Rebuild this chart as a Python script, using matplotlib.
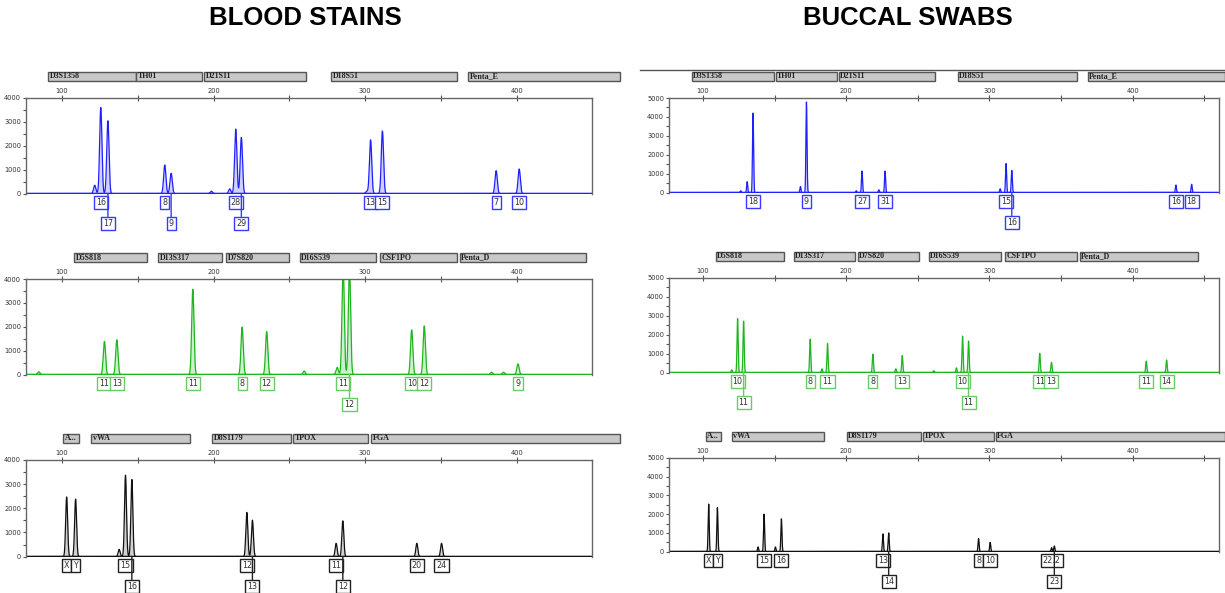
import numpy as np
import matplotlib.pyplot as plt
from matplotlib.patches import Rectangle
from matplotlib.lines import Line2D

W, H = 1225, 593

# ---- data: peaks (bp, rfu) and allele calls (label, bp, row) ----
blood_blue_bp = [121.6, 125.6, 130.3, 167.8, 172.0, 198.5, 210.6, 214.6, 218.3, 301.0, 303.5, 311.3, 386.3, 401.5]
blood_blue_rfu = [350, 3600, 3050, 1200, 850, 100, 200, 2700, 2350, 100, 2250, 2620, 960, 1030]
blood_blue_calls = [("16", 125.6, 0), ("17", 130.3, 1), ("8", 167.8, 0), ("9", 172.0, 1),
                    ("28", 214.6, 0), ("29", 218.3, 1), ("13", 303.5, 0), ("15", 311.3, 0),
                    ("7", 386.3, 0), ("10", 401.5, 0)]

blood_green_bp = [84.7, 128.0, 136.2, 186.3, 218.8, 235.0, 259.7, 281.5, 285.4, 289.6, 330.6, 338.9, 383.3, 391.2, 400.7]
blood_green_rfu = [120, 1390, 1460, 3570, 1990, 1800, 150, 300, 4600, 4500, 1875, 2040, 100, 100, 450]
blood_green_calls = [("11", 128.0, 0), ("13", 136.2, 0), ("11", 186.3, 0), ("8", 218.8, 0),
                     ("12", 235.0, 0), ("11", 285.4, 0), ("12", 289.6, 1), ("10", 330.6, 0),
                     ("12", 338.9, 0), ("9", 400.7, 0)]

blood_black_bp = [103.1, 109.0, 137.7, 141.9, 146.1, 221.9, 225.6, 280.8, 285.2, 334.0, 350.3]
blood_black_rfu = [2470, 2380, 300, 3370, 3190, 1830, 1510, 550, 1480, 550, 550]
blood_black_calls = [("X", 103.1, 0), ("Y", 109.0, 0), ("15", 141.9, 0), ("16", 146.1, 1),
                     ("12", 221.9, 0), ("13", 225.6, 1), ("11", 280.8, 0), ("12", 285.2, 1),
                     ("20", 334.0, 0), ("24", 350.3, 0)]

buccal_blue_bp = [126.3, 130.8, 134.9, 168.0, 172.2, 207.0, 211.0, 222.7, 227.1, 307.5, 311.6, 315.6, 430.2, 441.2]
buccal_blue_rfu = [100, 580, 4210, 320, 4790, 100, 1140, 150, 1140, 200, 1540, 1170, 400, 440]
buccal_blue_calls = [("18", 134.9, 0), ("9", 172.2, 0), ("27", 211.0, 0), ("31", 227.1, 0),
                     ("15", 311.6, 0), ("16", 315.6, 1), ("16", 430.2, 0), ("18", 441.2, 0)]

buccal_green_bp = [120.0, 124.1, 128.3, 174.8, 183.0, 186.9, 218.6, 234.6, 239.1, 261.1, 276.9, 281.2, 285.4,
                   335.1, 343.3, 409.5, 423.7]
buccal_green_rfu = [150, 2860, 2720, 1770, 200, 1540, 980, 200, 900, 100, 250, 1930, 1670, 1020, 540, 610, 670]
buccal_green_calls = [("10", 124.1, 0), ("11", 128.3, 1), ("8", 174.8, 0), ("11", 186.9, 0),
                      ("8", 218.6, 0), ("13", 239.1, 0), ("10", 281.2, 0), ("11", 285.4, 1),
                      ("11", 335.1, 0), ("13", 343.3, 0), ("11", 409.5, 0), ("14", 423.7, 0)]

buccal_black_bp = [103.9, 110.0, 138.4, 142.6, 150.5, 154.7, 225.6, 229.6, 292.4, 300.5, 343.4, 345.3]
buccal_black_rfu = [2540, 2350, 250, 2000, 250, 1750, 950, 1000, 700, 490, 210, 300]
buccal_black_calls = [("X", 103.9, 0), ("Y", 110.0, 0), ("15", 142.6, 0), ("16", 154.7, 0),
                      ("13", 225.6, 0), ("14", 229.6, 1), ("8", 292.4, 0), ("10", 300.5, 0),
                      ("22.2", 343.4, 0), ("23", 345.3, 1)]

# marker bins (name, start bp, end bp)
blood_markers_blue = [("D3S1358", 90.8, 148.8), ("TH01", 148.8, 192.3), ("D21S11", 193.7, 260.9),
                      ("D18S51", 277.4, 360.5), ("Penta_E", 367.7, 468.0)]
blood_markers_green = [("D5S818", 107.9, 156.1), ("D13S317", 163.3, 205.5), ("D7S820", 208.2, 249.7),
                       ("D16S539", 256.9, 307.1), ("CSF1PO", 309.7, 360.5), ("Penta_D", 362.4, 445.5)]
blood_markers_black = [("A...", 100.7, 111.2), ("vWA", 119.2, 184.4), ("D8S1179", 198.9, 251.0),
                       ("TPOX", 252.3, 301.8), ("FGA", 303.8, 468.0)]
buccal_markers_blue = [("D3S1358", 92.1, 149.4), ("TH01", 150.8, 193.4), ("D21S11", 194.8, 261.9),
                       ("D18S51", 277.9, 361.0), ("Penta_E", 368.6, 464.4)]
buccal_markers_green = [("D5S818", 108.8, 156.3), ("D13S317", 163.3, 205.9), ("D7S820", 208.0, 250.6),
                        ("D16S539", 257.6, 307.9), ("CSF1PO", 310.7, 361.0), ("Penta_D", 363.0, 445.5)]
buccal_markers_black = [("A...", 101.8, 112.3), ("vWA", 119.9, 184.1), ("D8S1179", 200.3, 252.0),
                        ("TPOX", 253.4, 303.0), ("FGA", 304.4, 464.4)]

BLUE = ("#2020ff", "#9a9aff", "#3a3aff")
GREEN = ("#1fb51f", "#8ee08e", "#66cc66")
BLACK = ("#111111", "#9a9a9a", "#222222")

fig = plt.figure(figsize=(W / 100, H / 100), dpi=100)


def panel(left, top, right, bottom, xlim, ymax, bp, rfu, calls, markers, colors, sigma):
    ax = fig.add_axes([left / W, 1 - bottom / H, (right - left) / W, (bottom - top) / H])
    line_c, fill_c, box_c = colors
    x = np.linspace(xlim[0], xlim[1], 8000)
    y = np.zeros_like(x)
    for p, h in zip(bp, rfu):
        y += h * np.exp(-0.5 * ((x - p) / sigma) ** 2)
    ax.fill_between(x, 0, y, color=fill_c, alpha=0.45, lw=0)
    ax.plot(x, y, color=line_c, lw=0.9)
    ax.plot(x, np.zeros_like(x), color=line_c, lw=1.3)
    ax.set_xlim(*xlim)
    ax.set_ylim(-ymax * 0.004, ymax)

    for s in ["top", "left", "right"]:
        ax.spines[s].set_color("#666666")
        ax.spines[s].set_linewidth(1)
    ax.spines["bottom"].set_visible(False)
    ax.xaxis.tick_top()
    ax.set_xticks([100, 200, 300, 400])
    ax.set_xticks(np.arange(150, xlim[1], 100), minor=True)
    ax.set_yticks(np.arange(0, ymax + 1, 1000))
    ax.set_yticks(np.arange(500, ymax, 1000), minor=True)
    ax.tick_params(axis="x", which="both", direction="inout", length=4, width=0.8,
                   color="#555555", labelsize=4.8, pad=1, labelcolor="#333333")
    ax.tick_params(axis="y", which="both", direction="out", length=2.5, width=0.8,
                   color="#555555", labelsize=4.8, pad=1, labelcolor="#333333")

    # marker bins above the axis
    ph = bottom - top
    for name, a, b in markers:
        r = Rectangle((a, 1 + 17 / ph), b - a, 9 / ph, transform=ax.get_xaxis_transform(),
                      fc="#c8c8c8", ec="#555555", lw=1, clip_on=False)
        ax.add_patch(r)
        ax.text(a + 1, 1 + 21.5 / ph, name, transform=ax.get_xaxis_transform(),
                fontsize=5.8, fontweight="bold", family="Liberation Serif",
                va="center", ha="left", color="#222222", clip_on=False)

    # allele calls under the baseline
    for lab, pos, row in calls:
        off = 9 if row == 0 else 30
        kw = {}
        if row == 1:
            kw["arrowprops"] = dict(arrowstyle="-", color=box_c, lw=1, shrinkA=0, shrinkB=0)
        ax.annotate(lab, xy=(pos, 0), xytext=(0, -off * 0.72), textcoords="offset points",
                    ha="center", va="center", fontsize=5.8, color="#333333",
                    bbox=dict(boxstyle="square,pad=0.25", fc="white", ec=box_c, lw=1),
                    annotation_clip=False, **kw)
    return ax


blood_x = (76.3, 449.5)
buccal_x = (76.2, 460.3)

panel(26, 98, 592, 194, blood_x, 4000, blood_blue_bp, blood_blue_rfu, blood_blue_calls,
      blood_markers_blue, BLUE, 0.75)
panel(26, 279, 592, 375, blood_x, 4000, blood_green_bp, blood_green_rfu, blood_green_calls,
      blood_markers_green, GREEN, 0.75)
panel(26, 460, 592, 557, blood_x, 4000, blood_black_bp, blood_black_rfu, blood_black_calls,
      blood_markers_black, BLACK, 0.65)

panel(669, 98, 1219, 193, buccal_x, 5000, buccal_blue_bp, buccal_blue_rfu, buccal_blue_calls,
      buccal_markers_blue, BLUE, 0.38)
panel(669, 278, 1219, 373, buccal_x, 5000, buccal_green_bp, buccal_green_rfu, buccal_green_calls,
      buccal_markers_green, GREEN, 0.4)
panel(669, 458, 1219, 552, buccal_x, 5000, buccal_black_bp, buccal_black_rfu, buccal_black_calls,
      buccal_markers_black, BLACK, 0.38)

fig.add_artist(Line2D([640 / W, 1], [1 - 70 / H, 1 - 70 / H], color="#555555", lw=1))

fig.text(305 / W, 1 - 18 / H, "BLOOD STAINS", ha="center", va="center",
         fontsize=18.5, fontweight="bold", family="Liberation Sans")
fig.text(908 / W, 1 - 18 / H, "BUCCAL SWABS", ha="center", va="center",
         fontsize=18.5, fontweight="bold", family="Liberation Sans")

fig.savefig("out.png", dpi=100)
